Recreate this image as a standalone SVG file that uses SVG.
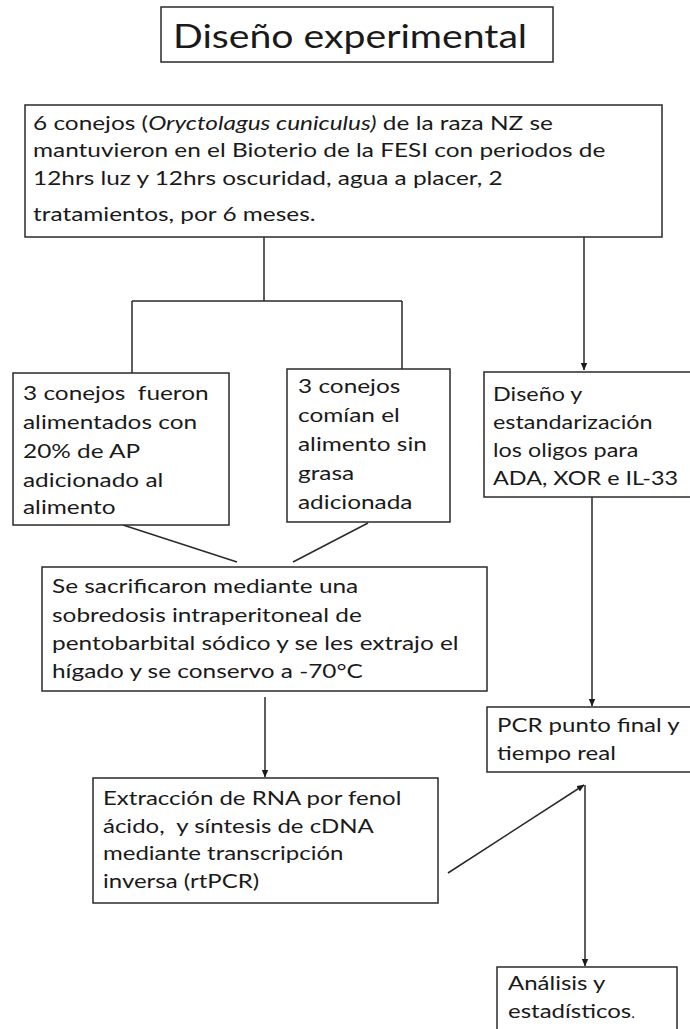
<svg xmlns="http://www.w3.org/2000/svg" width="690" height="1029" viewBox="0 0 690 1029">
  <style>
    .box { fill: #ffffff; stroke: #2a2a2a; stroke-width: 1.5; }
    .txt { font-family: Lato, "Open Sans", "Liberation Sans", sans-serif; font-size: 20px; fill: #1a1a1a; }
    .title { font-family: Lato, "Open Sans", "Liberation Sans", sans-serif; font-size: 32px; fill: #1a1a1a; }
    .line { fill: none; stroke: #2a2a2a; stroke-width: 1.5; }
  </style>
  <defs>
    <marker id="arrow" markerWidth="8" markerHeight="8" refX="7" refY="4" orient="auto" markerUnits="userSpaceOnUse">
      <path d="M0,0.8 L7.5,4 L0,7.2 z" fill="#1a1a1a"/>
    </marker>
  </defs>
  <rect width="690" height="1029" fill="#ffffff"/>

  <g id="connectors">
    <path class="line" d="M264,237 V301 M132,301 H402 M132,301 V373 M402,301 V369"/>
    <path class="line" d="M584,237 V370" marker-end="url(#arrow)"/>
    <path class="line" d="M123,525 L237,562 M368,523 L293,562"/>
    <path class="line" d="M265,697 V777" marker-end="url(#arrow)"/>
    <path class="line" d="M592,497 V706" marker-end="url(#arrow)"/>
    <path class="line" d="M448,873 L584,785" marker-end="url(#arrow)"/>
    <path class="line" d="M585,785 V966" marker-end="url(#arrow)"/>
  </g>

  <!-- text blocks are drawn wide: each group is stretched horizontally from its left margin -->
  <g id="title">
    <rect class="box" x="161" y="7" width="392" height="55"/>
    <g transform="translate(173 0) scale(1.225 1)">
      <text class="title" x="0" y="48">Diseño experimental</text>
    </g>
  </g>

  <g id="animales">
    <rect class="box" x="25" y="105" width="637" height="132"/>
    <g transform="translate(33 0) scale(1.22 1)">
      <text class="txt" x="0" y="130">6 conejos (<tspan font-style="italic">Oryctolagus cuniculus)</tspan> de la raza NZ se</text>
      <text class="txt" x="0" y="157">mantuvieron en el Bioterio de la FESI con periodos de</text>
      <text class="txt" x="0" y="185">12hrs luz y 12hrs oscuridad, agua a placer, 2</text>
      <text class="txt" x="0" y="221">tratamientos, por 6 meses.</text>
    </g>
  </g>

  <g id="grupo-ap">
    <rect class="box" x="13" y="373" width="216" height="152"/>
    <g transform="translate(23 0) scale(1.22 1)">
      <text class="txt" x="0" y="400" xml:space="preserve">3 conejos  fueron</text>
      <text class="txt" x="0" y="429">alimentados con</text>
      <text class="txt" x="0" y="458">20% de AP</text>
      <text class="txt" x="0" y="487">adicionado al</text>
      <text class="txt" x="0" y="514">alimento</text>
    </g>
  </g>

  <g id="grupo-control">
    <rect class="box" x="287" y="369" width="163" height="153"/>
    <g transform="translate(298 0) scale(1.22 1)">
      <text class="txt" x="0" y="393">3 conejos</text>
      <text class="txt" x="0" y="422">comían el</text>
      <text class="txt" x="0" y="451">alimento sin</text>
      <text class="txt" x="0" y="480">grasa</text>
      <text class="txt" x="0" y="509">adicionada</text>
    </g>
  </g>

  <g id="oligos">
    <rect class="box" x="484" y="372" width="220" height="125"/>
    <g transform="translate(493 0) scale(1.17 1)">
      <text class="txt" x="0" y="401">Diseño y</text>
      <text class="txt" x="0" y="429">estandarización</text>
      <text class="txt" x="0" y="457">los oligos para</text>
      <text class="txt" x="0" y="485">ADA, XOR e IL-33</text>
    </g>
  </g>

  <g id="sacrificio">
    <rect class="box" x="42" y="567" width="445" height="124"/>
    <g transform="translate(52 0) scale(1.22 1)">
      <text class="txt" x="0" y="593">Se sacrificaron mediante una</text>
      <text class="txt" x="0" y="622">sobredosis intraperitoneal de</text>
      <text class="txt" x="0" y="650">pentobarbital sódico y se les extrajo el</text>
      <text class="txt" x="0" y="678">hígado y se conservo a -70°C</text>
    </g>
  </g>

  <g id="pcr">
    <rect class="box" x="487" y="707" width="220" height="65"/>
    <g transform="translate(497 0) scale(1.2 1)">
      <text class="txt" x="0" y="732">PCR punto final y</text>
      <text class="txt" x="0" y="760">tiempo real</text>
    </g>
  </g>

  <g id="extraccion">
    <rect class="box" x="93" y="778" width="345" height="125"/>
    <g transform="translate(103 0) scale(1.2 1)">
      <text class="txt" x="0" y="805">Extracción de RNA por fenol</text>
      <text class="txt" x="0" y="833" xml:space="preserve">ácido,  y síntesis de cDNA</text>
      <text class="txt" x="0" y="860">mediante transcripción</text>
      <text class="txt" x="0" y="888">inversa (rtPCR)</text>
    </g>
  </g>

  <g id="analisis">
    <rect class="box" x="497" y="967" width="180" height="80"/>
    <g transform="translate(508 0) scale(1.2 1)">
      <text class="txt" x="0" y="990">Análisis y</text>
      <text class="txt" x="0" y="1018">estadísticos<tspan font-size="13">.</tspan></text>
    </g>
  </g>
</svg>
